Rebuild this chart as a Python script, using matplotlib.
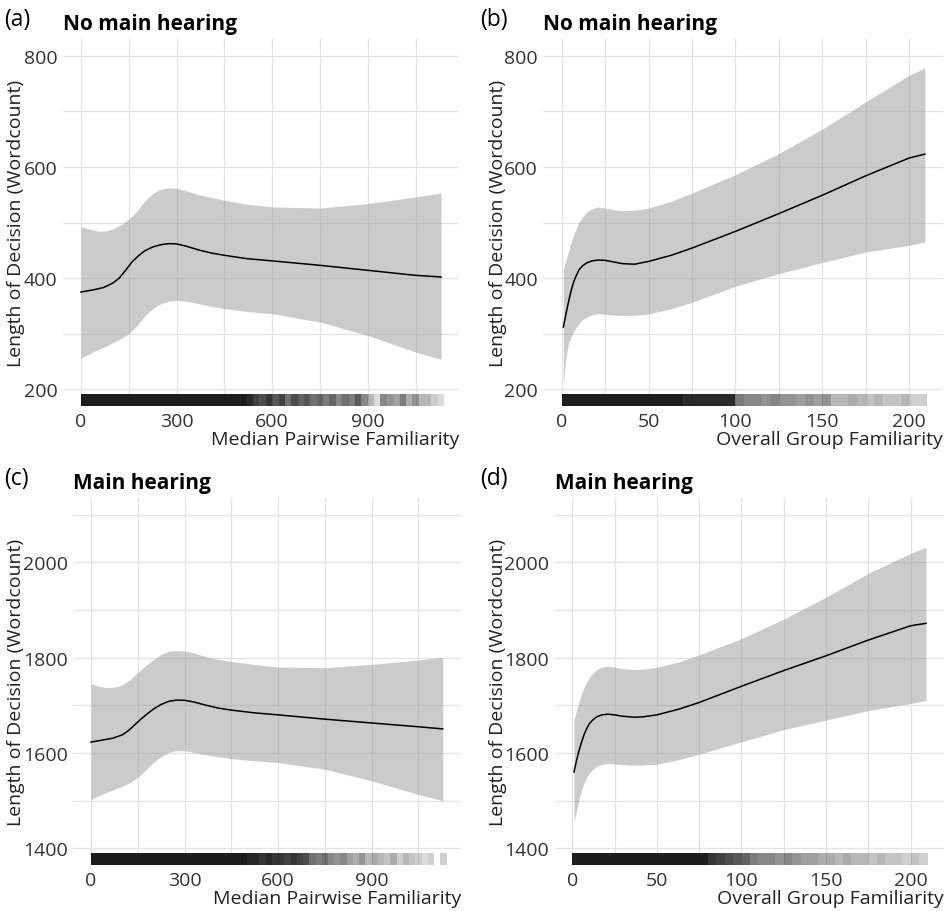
import matplotlib

matplotlib.use("Agg")
import matplotlib.pyplot as plt
import numpy as np

plt.rcParams["font.family"] = ["Open Sans", "DejaVu Sans"]

# ---- panel (a): no main hearing, median pairwise familiarity ----
a_x = [0, 40, 70, 100, 120, 140, 160, 180, 200, 225, 250, 275, 300, 330, 370, 410, 450,
       520, 600, 750, 900, 1050, 1130]
a_fit = [375, 379, 383, 391, 400, 414, 429, 440, 449, 456, 460, 462, 461.5, 457.5, 450.5,
         445, 441, 435, 431, 423, 414, 405, 402]
a_band_x = [0, 20, 40, 60, 80, 100, 125, 150, 175, 200, 225, 250, 275, 300, 330, 370, 410,
            450, 520, 600, 750, 900, 1050, 1130]
a_hi = [493, 489, 486, 484, 485, 488.5, 496, 506, 520, 539, 552, 560, 562.5, 561.5, 557, 550,
        545, 540, 533, 528, 526, 534, 546, 553]
a_lo = [256, 262, 268, 273, 278, 284, 291, 300, 314, 332, 345, 354, 358.5, 360, 358.5, 354,
        349, 345, 340, 336, 321, 297, 267, 254]

# ---- panel (b): no main hearing, overall group familiarity ----
b_x = [1, 2.5, 4, 5.5, 7, 8.5, 10, 12, 14.5, 17.5, 21, 25, 30, 35, 42, 50, 63, 75, 100, 125,
       150, 175, 200, 209]
b_fit = [312, 336, 358, 378, 394, 405, 415, 422, 427.5, 431, 432.5, 432, 429, 426, 425, 430,
         441, 454, 484, 516, 549, 584, 616, 623]
b_hi = [417, 432, 449, 465, 479, 490, 500, 510, 519, 525, 528, 526, 523, 521, 522, 526, 538,
        553, 586, 624, 668, 717, 765, 778]
b_lo = [210, 258, 284, 295, 304, 312, 319, 325, 330, 334, 336, 335, 333.5, 333, 333, 335.5,
        345, 356.5, 385.5, 408, 428, 447, 459, 465]

# ---- panel (c): main hearing, median pairwise familiarity ----
c_x = [0, 40, 70, 100, 120, 140, 160, 180, 200, 225, 250, 275, 300, 330, 370, 410, 450, 520,
       600, 750, 900, 1050, 1128]
c_fit = [1623, 1627.5, 1631, 1638, 1647, 1659, 1671, 1682, 1692, 1702, 1708.5, 1711, 1710.5,
         1707, 1700, 1694, 1690, 1684.5, 1680, 1671, 1663, 1655, 1650.5]
c_band_x = [0, 20, 40, 60, 80, 100, 125, 150, 175, 200, 225, 250, 275, 300, 330, 370, 410,
            450, 520, 600, 750, 900, 1050, 1128]
c_hi = [1746, 1741, 1738, 1737, 1739, 1743, 1754, 1769, 1783, 1796, 1807, 1813.5, 1815, 1814,
        1810, 1802, 1796, 1792, 1786, 1780.5, 1779, 1786, 1795, 1801]
c_lo = [1502, 1509, 1515, 1520, 1525, 1530, 1538, 1549, 1564, 1580, 1592, 1602, 1605, 1605,
        1601, 1596, 1592, 1588, 1584, 1580, 1566, 1541.5, 1513, 1500]

# ---- panel (d): main hearing, overall group familiarity ----
d_x = [1, 2.5, 4, 5.5, 7, 8.5, 10, 12, 14.5, 17.5, 21, 25, 30, 37, 42, 50, 63, 75, 100, 125,
       150, 175, 200, 209]
d_fit = [1560, 1584, 1605, 1623, 1639, 1651, 1661, 1669, 1676, 1680, 1681.5, 1680, 1677, 1675,
         1676, 1680, 1692, 1706, 1740, 1773, 1804, 1837, 1867, 1872]
d_hi = [1670, 1689, 1708, 1724, 1738, 1749, 1758, 1767, 1775, 1780, 1782, 1780, 1777, 1775,
        1776, 1780, 1791, 1806, 1840, 1881, 1927, 1977, 2019, 2032]
d_lo = [1457, 1478, 1503, 1522, 1537, 1549, 1558, 1565, 1572, 1576, 1578, 1577, 1575.5, 1574.5,
        1575, 1576.5, 1586, 1597.5, 1623.5, 1649, 1669, 1689, 1704, 1710]

# rug density (opacity per bin), pairwise bins of 20, group bins of 5
rug_pair_bins = list(range(0, 1140, 20))
rug_a = [0.95] * 25 + [0.95, 0.9, 0.8, 0.75, 0.85, 0.7, 0.8, 0.6, 0.75, 0.65, 0.7, 0.6, 0.65, 0.55,
                       0.65, 0.5, 0.6, 0.55, 0.7, 0.5, 0.3, 0.15, 0.5, 0.45, 0.4, 0.55, 0.35, 0.45,
                       0.3, 0.3, 0.2, 0.15]
rug_c = [0.95] * 25 + [0.9, 0.9, 0.85, 0.9, 0.85, 0.85, 0.8, 0.85, 0.8, 0.75,
                       0.6, 0.55, 0.6, 0.5, 0.45, 0.5, 0.4, 0.35, 0.45, 0.3, 0.35, 0.3, 0.25, 0.35, 0.2,
                       0.3, 0.25, 0.2, 0.15, 0.2, 0.0, 0.2]
rug_group_bins = list(range(0, 210, 5))
rug_b = [0.95] * 14 + [0.9] * 6 + [0.55, 0.5, 0.5, 0.45, 0.5, 0.45, 0.45, 0.4, 0.45, 0.4,
                                   0.45, 0.3, 0.3, 0.35, 0.3, 0.25, 0.3, 0.25, 0.25, 0.3, 0.2, 0.2]
rug_d = [0.95] * 16 + [0.85, 0.8, 0.75, 0.7, 0.65, 0.55, 0.5, 0.5, 0.45, 0.5, 0.45, 0.4, 0.4,
                       0.35, 0.35, 0.3, 0.35, 0.3, 0.3, 0.25, 0.3, 0.25, 0.25, 0.2, 0.25, 0.2]

pair_ticks = [0, 300, 600, 900]
pair_minor = [150, 450, 750, 1050]
group_ticks = [0, 50, 100, 150, 200]
group_minor = [25, 75, 125, 175]
nomain_ticks = [200, 400, 600, 800]
nomain_minor = [300, 500, 700]
main_ticks = [1400, 1600, 1800, 2000]
main_minor = [1500, 1700, 1900, 2100]

W, H = 953, 912
fig = plt.figure(figsize=(W / 100, H / 100), dpi=100)


def panel(rect, x, fit, band_x, lo, hi, bins, width, rug, xlim, ylim, xt, xm, yt, ym,
          xlabel, title, tag, tag_x, ylab_x):
    l, t, r, b = rect
    ax = fig.add_axes([l / W, 1 - b / H, (r - l) / W, (b - t) / H])
    ax.set_xlim(xlim)
    ax.set_ylim(ylim)
    ax.set_xticks(xt)
    ax.set_xticks(xm, minor=True)
    ax.set_yticks(yt)
    ax.set_yticks(ym, minor=True)
    ax.grid(which="both", color="#e3e3e3", lw=0.9)
    ax.set_axisbelow(True)
    ax.tick_params(which="both", length=0, labelsize=14, labelcolor="#333333")
    ax.tick_params(axis="x", pad=4)
    ax.tick_params(axis="y", pad=4)
    for s in ax.spines.values():
        s.set_visible(False)

    ax.fill_between(band_x, lo, hi, color="#999999", alpha=0.5, lw=0)
    ax.plot(x, fit, color="black", lw=1.1)
    for x0, a in zip(bins, rug):
        if a > 0:
            ax.axvspan(x0, x0 + width, ymin=0, ymax=0.033, color="#111111",
                       alpha=a, lw=0)

    ax.set_xlabel(xlabel, loc="right", fontsize=14, labelpad=0, color="#222222")
    ax.set_ylabel("Length of Decision (Wordcount)", fontsize=14, color="#222222")
    ax.yaxis.set_label_coords(ylab_x, 0.5)
    ax.set_title(title, loc="left", fontweight="bold", fontsize=15, pad=7)
    fig.text(tag_x / W, 1 - (t - 20) / H, tag, fontsize=16.5, va="center", ha="left")
    return ax


panel((63, 40, 459, 407), a_x, a_fit, a_band_x, a_lo, a_hi, rug_pair_bins, 20, rug_a,
      (-56.5, 1186.5), (170, 830), pair_ticks, pair_minor, nomain_ticks, nomain_minor,
      "Median Pairwise Familiarity", "No main hearing", "(a)", 4, -0.095)
panel((543.5, 40, 943, 407), b_x, b_fit, b_x, b_lo, b_hi, rug_group_bins, 5, rug_b,
      (-10.45, 219.45), (170, 830), group_ticks, group_minor, nomain_ticks, nomain_minor,
      "Overall Group Familiarity", "No main hearing", "(b)", 480, -0.092)
panel((73.4, 499, 461, 866), c_x, c_fit, c_band_x, c_lo, c_hi, rug_pair_bins, 20, rug_c,
      (-56.5, 1186.5), (1365, 2135), pair_ticks, pair_minor, main_ticks, main_minor,
      "Median Pairwise Familiarity", "Main hearing", "(c)", 4, -0.125)
panel((554.6, 499, 943.6, 866), d_x, d_fit, d_x, d_lo, d_hi, rug_group_bins, 5, rug_d,
      (-10.45, 219.45), (1365, 2135), group_ticks, group_minor, main_ticks, main_minor,
      "Overall Group Familiarity", "Main hearing", "(d)", 480, -0.122)

fig.savefig("out.png", dpi=100)
plt.close(fig)
